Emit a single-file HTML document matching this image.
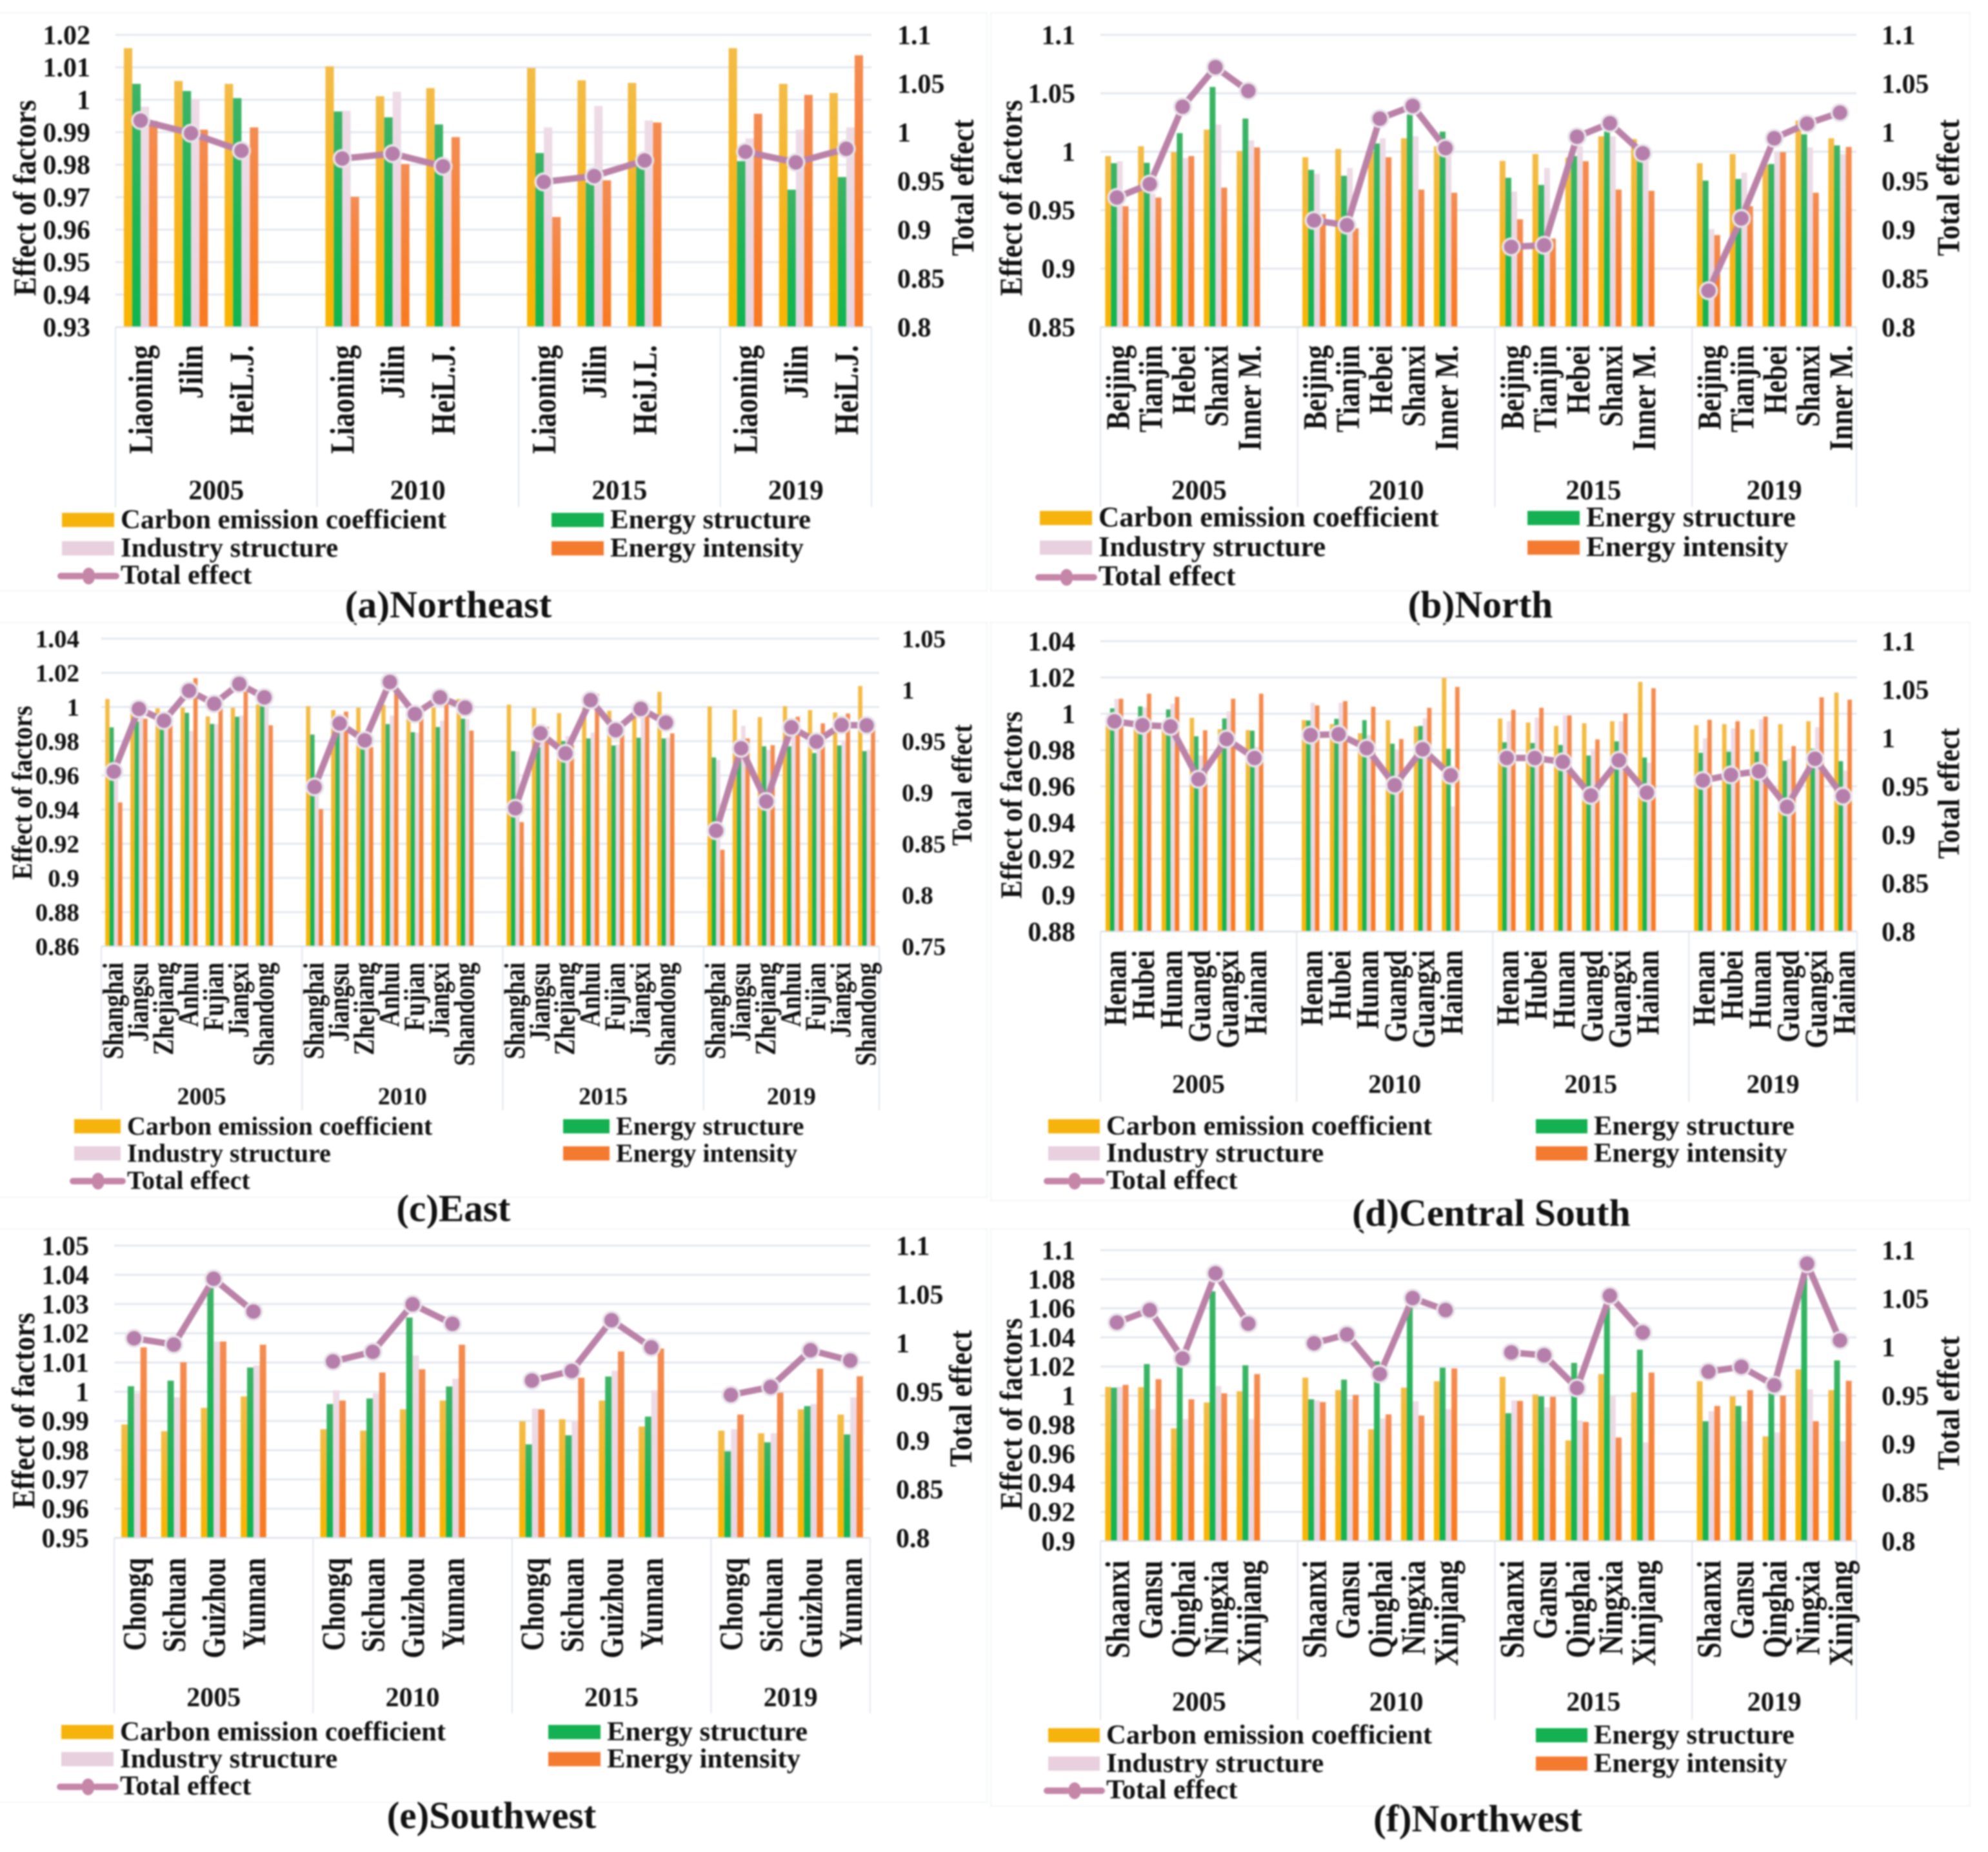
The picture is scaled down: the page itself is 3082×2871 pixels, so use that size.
<!DOCTYPE html>
<html lang="en">
<head>
<meta charset="utf-8">
<title>Decomposition of carbon emission effects by region</title>
<style>
html,body{margin:0;padding:0;background:#fff;}
#figure{display:block;width:3082px;height:2871px;background:#fff;font-family:"Liberation Serif",serif;}
#figure-content{filter:blur(1.2px);}
#figure text{font-family:"Liberation Serif",serif;font-weight:bold;fill:#111;}
</style>
</head>
<body>
<svg id="figure" xmlns="http://www.w3.org/2000/svg" width="3082" height="2871" viewBox="0 0 3082 2871">
<defs>
<linearGradient id="grad-carbon" x1="0" y1="0" x2="0" y2="1"><stop offset="0" stop-color="#F3BC48"/><stop offset="0.55" stop-color="#F7B41C"/><stop offset="1" stop-color="#F9B500"/></linearGradient>
<linearGradient id="grad-energy" x1="0" y1="0" x2="0" y2="1"><stop offset="0" stop-color="#3DB466"/><stop offset="0.55" stop-color="#1CB556"/><stop offset="1" stop-color="#10B550"/></linearGradient>
<linearGradient id="grad-industry" x1="0" y1="0" x2="0" y2="1"><stop offset="0" stop-color="#EDDBE6"/><stop offset="1" stop-color="#E9D3E0"/></linearGradient>
<linearGradient id="grad-intensity" x1="0" y1="0" x2="0" y2="1"><stop offset="0" stop-color="#F48C52"/><stop offset="0.6" stop-color="#F6802F"/><stop offset="1" stop-color="#F97A20"/></linearGradient>
</defs>
<g id="figure-content"></g>
</svg>
<script>
// ---- shared labels ----
const yearLabels = ['2005', '2010', '2015', '2019'];
const legendLabels = ['Carbon emission coefficient', 'Energy structure', 'Industry structure', 'Energy intensity', 'Total effect'];

// ---- (a) Northeast ----
const northeastCategories = ['Liaoning','Jilin','HeiL.J.','Liaoning','Jilin','HeiL.J.','Liaoning','Jilin','HeiJ.L.','Liaoning','Jilin','HeiL.J.'];
const northeastLeftTicks = ['0.93','0.94','0.95','0.96','0.97','0.98','0.99','1','1.01','1.02'];
const northeastRightTicks = ['0.8','0.85','0.9','0.95','1','1.05','1.1'];
const northeastCarbon = [1.0159,1.0058,1.0049, 1.0103,1.0011,1.0036, 1.0098,1.006,1.0052, 1.0159,1.0049,1.0021];
const northeastEnergy = [1.0049,1.0027,1.0005, 0.9964,0.9946,0.9924, 0.9836,0.9745,0.98, 0.9811,0.9723,0.9762];
const northeastIndustry = [0.9979,1.0003,0.984, 0.9966,1.0025,0.978, 0.9915,0.9981,0.9936, 0.9881,0.9908,0.9915];
const northeastIntensity = [0.9935,0.9908,0.9915, 0.9701,0.9802,0.9885, 0.9639,0.9752,0.993, 0.9957,1.0015,1.0137];
const northeastTotal = [1.012,0.999,0.981, 0.973,0.978,0.965, 0.949,0.955,0.971, 0.98,0.969,0.983];

// ---- (b) North ----
const northProvinces = ['Beijing','Tianjin','Hebei','Shanxi','Inner M.'];
const northCategories = [...northProvinces,...northProvinces,...northProvinces,...northProvinces];
const northLeftTicks = ['0.85','0.9','0.95','1','1.05','1.1'];
const northRightTicks = ['0.8','0.85','0.9','0.95','1','1.05','1.1'];
const northCarbon = [0.9963,1.0047,0.9997,1.0189,1.0007, 0.9953,1.0024,1.0,1.0115,1.0047, 0.9922,0.998,0.995,1.0132,1.0108, 0.9902,0.998,0.989,1.0267,1.0115];
const northEnergy = [0.9902,0.9905,1.0159,1.0554,1.0284, 0.9845,0.9794,1.0071,1.0318,1.0172, 0.9777,0.9716,0.9963,1.0172,0.9929, 0.9753,0.9767,0.9895,1.0149,1.0054];
const northIndustry = [0.9919,0.964,0.9946,1.0233,1.0098, 0.9811,0.9861,1.0115,1.0132,1.003, 0.9659,0.9861,1.0047,1.0132,0.9946, 0.9338,0.9821,0.9997,1.0037,0.998];
const northIntensity = [0.9534,0.9608,0.9963,0.9693,1.0037, 0.9466,0.9345,0.9953,0.9676,0.9649, 0.9422,0.9257,0.9919,0.9676,0.9666, 0.9287,0.9534,0.9997,0.9649,1.0041];
const northTotal = [0.933,0.9468,1.0262,1.0668,1.0424, 0.9095,0.9046,1.014,1.027,0.9837, 0.8823,0.884,0.9954,1.0092,0.9784, 0.8373,0.9115,0.9938,1.0088,1.0201];

// ---- (c) East ----
const eastProvinces = ['Shanghai','Jiangsu','Zhejiang','Anhui','Fujian','Jiangxi','Shandong'];
const eastCategories = [...eastProvinces,...eastProvinces,...eastProvinces,...eastProvinces];
const eastLeftTicks = ['0.86','0.88','0.9','0.92','0.94','0.96','0.98','1','1.02','1.04'];
const eastRightTicks = ['0.75','0.8','0.85','0.9','0.95','1','1.05'];
const eastCarbon = [1.0047,0.9962,0.9992,0.9996,0.9945,0.9996,1.0015, 1.0005,0.9982,0.9996,1.0012,0.9932,0.9996,1.0047, 1.0014,0.9994,0.9964,0.9996,0.9978,0.9996,1.0089, 1.0003,0.9985,0.9941,1.0005,0.9982,0.9968,1.0123];
const eastEnergy = [0.9881,0.9915,0.987,0.9966,0.9901,0.9943,1.0019, 0.9839,0.9881,0.9765,0.99,0.9853,0.9883,0.9932, 0.9742,0.9765,0.98,0.9816,0.9775,0.982,0.9816, 0.9705,0.972,0.977,0.977,0.9731,0.9775,0.9742];
const eastIndustry = [0.968,0.996,0.987,0.986,0.99,0.995,1.0, 0.95,0.985,0.98,0.995,0.985,0.992,0.993, 0.974,0.99,0.983,0.985,0.978,0.998,0.982, 0.969,0.989,0.975,0.985,0.975,0.98,0.975];
const eastIntensity = [0.9442,0.9932,0.9897,1.0169,0.9996,1.0089,0.9893, 0.9403,0.9973,0.9765,1.0089,0.9932,1.0024,0.9862, 0.9327,0.9885,0.9777,1.0077,0.9915,0.9962,0.9846, 0.9165,0.9816,0.9777,0.9943,0.9904,0.9962,0.987];
const eastTotal = [0.9204,0.9815,0.97,0.9992,0.9865,1.0058,0.9927, 0.9054,0.9673,0.9508,1.0077,0.9765,0.9927,0.9827, 0.8846,0.9577,0.9381,0.99,0.9608,0.9815,0.9681, 0.8627,0.9431,0.8912,0.9635,0.9496,0.9658,0.9654];

// ---- (d) Central South ----
const centralProvinces = ['Henan','Hubei','Hunan','Guangd','Guangxi','Hainan'];
const centralCategories = [...centralProvinces,...centralProvinces,...centralProvinces,...centralProvinces];
const centralLeftTicks = ['0.88','0.9','0.92','0.94','0.96','0.98','1','1.02','1.04'];
const centralRightTicks = ['0.8','0.85','0.9','0.95','1','1.05','1.1'];
const centralCarbon = [0.998,0.996,0.994,0.9978,0.9915,0.991, 0.9965,0.9943,0.9893,0.9965,0.993,1.0198, 0.9974,0.9952,0.9933,0.9948,0.9959,1.0176, 0.9937,0.9943,0.9915,0.9943,0.9959,1.0117];
const centralEnergy = [1.003,1.0041,1.0024,0.9876,0.9974,0.9907, 0.9963,0.9972,0.9965,0.9835,0.9933,0.9807, 0.9843,0.9839,0.9828,0.977,0.9848,0.9759, 0.9785,0.9791,0.9791,0.9741,0.9807,0.9739];
const centralIndustry = [1.0083,1.0035,1.0055,0.977,1.0013,0.9817, 1.0061,1.0061,0.9883,0.9796,0.9976,0.949, 0.9959,0.998,0.9991,0.9807,0.9959,0.973, 0.9865,0.992,0.997,0.9752,0.9926,0.9687];
const centralIntensity = [1.0083,1.0111,1.0093,0.9909,1.0083,1.0111, 1.0046,1.007,1.0039,0.9861,1.0033,1.0148, 1.0022,1.0033,0.9991,0.9859,1.0002,1.0141, 0.9967,0.9959,0.9985,0.9822,1.0091,1.0078];
const centralTotal = [1.0172,1.0132,1.0119,0.9573,0.9989,0.9793, 1.003,1.0038,0.9895,0.9512,0.9883,0.9614, 0.9793,0.9793,0.9753,0.9406,0.9769,0.9435, 0.9561,0.9618,0.9655,0.9288,0.9785,0.9398];

// ---- (e) Southwest ----
const southwestProvinces = ['Chongq','Sichuan','Guizhou','Yunnan'];
const southwestCategories = [...southwestProvinces,...southwestProvinces,...southwestProvinces,...southwestProvinces];
const southwestLeftTicks = ['0.95','0.96','0.97','0.98','0.99','1','1.01','1.02','1.03','1.04','1.05'];
const southwestRightTicks = ['0.8','0.85','0.9','0.95','1','1.05','1.1'];
const southwestCarbon = [0.9888,0.9865,0.9945,0.9984, 0.9872,0.9867,0.994,0.997, 0.9899,0.9906,0.997,0.9881, 0.9867,0.9858,0.994,0.9922];
const southwestEnergy = [1.0019,1.0038,1.0357,1.0083, 0.9958,0.9977,1.0254,1.0018, 0.982,0.9851,1.0052,0.9915, 0.9796,0.9827,0.9951,0.9854];
const southwestIndustry = [0.9995,0.9981,1.0172,1.009, 1.0005,0.9995,1.0124,1.0045, 0.9943,0.9899,1.0072,1.0005, 0.9872,0.9858,0.9958,0.9981];
const southwestIntensity = [1.0152,1.0101,1.0172,1.0161, 0.997,1.0066,1.0077,1.0161, 0.994,1.0048,1.0138,1.0148, 0.9922,0.9997,1.0079,1.0053];
const southwestTotal = [1.0049,0.9984,1.066,1.0324, 0.9811,0.991,1.0398,1.0197, 0.9615,0.9713,1.0234,0.9955, 0.9467,0.9549,0.9926,0.982];

// ---- (f) Northwest ----
const northwestProvinces = ['Shaanxi','Gansu','Qinghai','Ningxia','Xinjiang'];
const northwestCategories = [...northwestProvinces,...northwestProvinces,...northwestProvinces,...northwestProvinces];
const northwestLeftTicks = ['0.9','0.92','0.94','0.96','0.98','1','1.02','1.04','1.06','1.08','1.1'];
const northwestRightTicks = ['0.8','0.85','0.9','0.95','1','1.05','1.1'];
const northwestCarbon = [1.006,1.0058,0.9775,0.9953,1.003, 1.0124,1.0038,0.9769,1.0055,1.0099, 1.0129,1.0008,0.9692,1.0148,1.0022, 1.0099,0.9995,0.972,1.0181,1.0038];
const northwestEnergy = [1.0055,1.0217,1.0203,1.0717,1.0209, 0.9975,1.011,1.0236,1.0607,1.0192, 0.9879,0.9995,1.0225,1.0607,1.0316, 0.9824,0.9929,1.0017,1.0827,1.0242];
const northwestIndustry = [1.006,0.9907,0.9838,1.0066,0.9838, 0.9967,0.9975,0.9843,0.9961,0.9907, 0.9967,0.992,0.983,1.0003,0.9679, 0.9893,0.9824,0.9747,1.0044,0.9687];
const northwestIntensity = [1.0074,1.0113,0.9975,1.0016,1.0148, 0.9956,1.0005,0.9871,0.9863,1.0187, 0.9964,0.9992,0.9819,0.9712,1.0159, 0.9929,1.0038,1.0,0.9824,1.0102];
const northwestTotal = [1.0254,1.0382,0.9883,1.0761,1.0242, 1.004,1.0131,0.9723,1.0506,1.0382, 0.9945,0.9916,0.9578,1.053,1.0151, 0.9747,0.9797,0.9607,1.086,1.0069];

const SVG_NS = 'http://www.w3.org/2000/svg';
const root = document.getElementById('figure-content');
const seriesFills = ['url(#grad-carbon)', 'url(#grad-energy)', 'url(#grad-industry)', 'url(#grad-intensity)'];
const seriesKeys = ['carbon', 'energy', 'industry', 'intensity'];
const legendFills = ['#F6B30C', '#13B152', '#E8D0DE', '#F47A30'];

function make(parent, tag, attrs) {
  const el = document.createElementNS(SVG_NS, tag);
  for (const key in attrs) el.setAttribute(key, attrs[key]);
  parent.appendChild(el);
  return el;
}

function label(parent, content, x, y, size, anchor, transform) {
  const attrs = { 'font-size': size, 'text-anchor': anchor };
  if (transform) { attrs.transform = transform; } else { attrs.x = x; attrs.y = y; }
  const el = make(parent, 'text', attrs);
  el.textContent = content;
  return el;
}

function drawPanel(cfg) {
  const panel = make(root, 'g', {});
  
  

  const frame = make(panel, 'rect', { x: cfg.frame[0], y: cfg.frame[1], width: cfg.frame[2], height: cfg.frame[3], fill: 'none', stroke: '#F3F4F6', 'stroke-width': 2 });
  
  

  const leftMin = Number(cfg.leftTicks[0]);
  const leftMax = Number(cfg.leftTicks[cfg.leftTicks.length - 1]);
  const rightMin = Number(cfg.rightTicks[0]);
  const rightMax = Number(cfg.rightTicks[cfg.rightTicks.length - 1]);
  const yLeft = function (v) { return cfg.yBottom - (v - leftMin) / (leftMax - leftMin) * (cfg.yBottom - cfg.yTop); };
  const yRight = function (v) { return cfg.yBottom - (v - rightMin) / (rightMax - rightMin) * (cfg.yBottom - cfg.yTop); };

  const groupCount = cfg.years.length;
  const perGroup = cfg.categories.length / groupCount;
  const slotCount = cfg.categories.length + groupCount - 1;
  const slot = (cfg.xRight - cfg.xLeft) / slotCount;
  const slotCenter = function (i) {
    const group = Math.floor(i / perGroup);
    return cfg.xLeft + (i + group + 0.5) * slot;
  };

  // gridlines and left tick labels
  cfg.leftTicks.forEach(function (tick) {
    const y = yLeft(Number(tick));
    const grid = make(panel, 'line', { x1: cfg.xLeft, x2: cfg.xRight, y1: y, y2: y, stroke: '#E3E7EF', 'stroke-width': 3 });
    
    
    const text = label(panel, tick, cfg.leftTickX, y + cfg.tickSize * 0.34, cfg.tickSize, 'end');
    
    
  });
  cfg.rightTicks.forEach(function (tick) {
    const y = yRight(Number(tick));
    const text = label(panel, tick, cfg.rightTickX, y + cfg.tickSize * 0.34, cfg.tickSize, 'start');
    
    
  });

  // bars
  const barWidth = slot * cfg.clusterFraction / 4;
  cfg.series.forEach(function (values, s) {
    values.forEach(function (value, i) {
      const x = slotCenter(i) - 2 * barWidth + s * barWidth;
      const top = yLeft(value);
      const bar = make(panel, 'rect', { x: x, y: top, width: barWidth, height: Math.max(0, cfg.yBottom - top), fill: seriesFills[s] });
      
      
    });
  });

  // category axis base and year separators
  const axis = make(panel, 'line', { x1: cfg.xLeft, x2: cfg.xRight, y1: cfg.yBottom, y2: cfg.yBottom, stroke: '#DFE3EC', 'stroke-width': 2 });
  
  
  for (let g = 0; g <= groupCount; g++) {
    const sx = g === groupCount ? cfg.xRight : cfg.xLeft + g * (perGroup + 1) * slot;
    const sep = make(panel, 'line', { x1: sx, x2: sx, y1: cfg.yBottom, y2: cfg.sepBottom, stroke: '#E0E4EC', 'stroke-width': 2 });
    
    
  }

  // category labels
  cfg.categories.forEach(function (name, i) {
    const bx = slotCenter(i) + cfg.catDx;
    const text = label(panel, name, 0, 0, cfg.catSize, 'end', 'translate(' + bx + ' ' + cfg.catTop + ') rotate(-90) scale(1 ' + cfg.catStretch + ')');
    
    
  });

  // year labels
  cfg.years.forEach(function (year, g) {
    const start = cfg.xLeft + g * (perGroup + 1) * slot;
    const end = g === groupCount - 1 ? cfg.xRight : start + (perGroup + 1) * slot;
    const text = label(panel, year, (start + end) / 2, cfg.yearBaseline, cfg.yearSize, 'middle');
    
    
  });

  // total effect line, one segment per year
  for (let g = 0; g < groupCount; g++) {
    const pts = [];
    for (let k = 0; k < perGroup; k++) {
      const i = g * perGroup + k;
      pts.push(slotCenter(i) + ',' + yRight(cfg.total[i]));
    }
    const line = make(panel, 'polyline', { points: pts.join(' '), fill: 'none', stroke: '#BB82A8', 'stroke-width': 10, 'stroke-linejoin': 'round' });
    
    
  }
  cfg.total.forEach(function (value, i) {
    const dot = make(panel, 'circle', { cx: slotCenter(i), cy: yRight(value), r: 13, fill: '#B67FAB', stroke: '#E9E4EA', 'stroke-width': 3.5 });
    
    
  });

  // axis titles
  const leftTitle = label(panel, 'Effect of factors', 0, 0, cfg.titleSize, 'middle', 'translate(' + cfg.leftTitle[0] + ' ' + cfg.leftTitle[1] + ') rotate(-90) scale(1 1.12)');
  
  
  const rightTitle = label(panel, 'Total effect', 0, 0, cfg.titleSize, 'middle', 'translate(' + cfg.rightTitle[0] + ' ' + cfg.rightTitle[1] + ') rotate(-90) scale(1 1.12)');
  
  

  // legend
  const legend = make(panel, 'g', {});
  
  
  const rowY = cfg.legendRows;
  const swatchW = cfg.swatchWidth;
  const entries = [
    { col: 0, row: 0, label: legendLabels[0], fill: legendFills[0] },
    { col: 1, row: 0, label: legendLabels[1], fill: legendFills[1] },
    { col: 0, row: 1, label: legendLabels[2], fill: legendFills[2] },
    { col: 1, row: 1, label: legendLabels[3], fill: legendFills[3] }
  ];
  entries.forEach(function (entry) {
    const sx = cfg.legendCols[entry.col];
    const swatch = make(legend, 'rect', { x: sx, y: rowY[entry.row] - 11, width: swatchW, height: 22, fill: entry.fill });
    
    
    const text = label(legend, entry.label, sx + swatchW + 10, rowY[entry.row] + 13, cfg.legendSize, 'start');
    
    
  });
  const lx = cfg.legendCols[0];
  const ly = rowY[2];
  const legendLineA = make(legend, 'line', { x1: lx - 2, x2: lx + swatchW / 2 - 11, y1: ly, y2: ly, stroke: '#C586A8', 'stroke-width': 10, 'stroke-linecap': 'round' });
  
  
  const legendLineB = make(legend, 'line', { x1: lx + swatchW / 2 + 13, x2: lx + swatchW + 3, y1: ly, y2: ly, stroke: '#C586A8', 'stroke-width': 10, 'stroke-linecap': 'round' });
  
  
  const legendDot = make(legend, 'ellipse', { cx: lx + swatchW / 2 + 1, cy: ly, rx: 10, ry: 13, fill: '#C586A8' });
  
  
  const totalText = label(legend, legendLabels[4], lx + swatchW + 10, ly + 12, cfg.legendSize, 'start');
  
  

  // panel caption
  const caption = label(panel, cfg.caption, cfg.captionPos[0], cfg.captionPos[1], cfg.captionSize, 'middle');
  
  
}

drawPanel({
  key: 'northeast', caption: '(a)Northeast', captionPos: [695, 957], captionSize: 59.5,
  categories: northeastCategories, years: yearLabels, leftTicks: northeastLeftTicks, rightTicks: northeastRightTicks,
  series: [northeastCarbon, northeastEnergy, northeastIndustry, northeastIntensity], total: northeastTotal,
  frame: [-4, 20, 1534, 896], xLeft: 179, xRight: 1351, yTop: 54, yBottom: 507, sepBottom: 786,
  leftTickX: 140, rightTickX: 1391, tickSize: 42, clusterFraction: 0.667,
  catTop: 535, catDx: 18, catSize: 44, catStretch: 1.2, yearBaseline: 774, yearSize: 43,
  titleSize: 44.5, leftTitle: [55, 307], rightTitle: [1509, 291],
  swatchWidth: 81, legendCols: [96, 855], legendRows: [806, 850, 893], legendSize: 42.7
});
drawPanel({
  key: 'north', caption: '(b)North', captionPos: [2295, 957], captionSize: 59.5,
  categories: northCategories, years: yearLabels, leftTicks: northLeftTicks, rightTicks: northRightTicks,
  series: [northCarbon, northEnergy, northIndustry, northIntensity], total: northTotal,
  frame: [1536, 20, 1518, 896], xLeft: 1706, xRight: 2878, yTop: 54, yBottom: 507, sepBottom: 786,
  leftTickX: 1667, rightTickX: 2917, tickSize: 42, clusterFraction: 0.71,
  catTop: 535, catDx: 19, catSize: 43, catStretch: 1.2, yearBaseline: 774, yearSize: 43,
  titleSize: 44.5, leftTitle: [1584, 307], rightTitle: [3037, 291],
  swatchWidth: 81, legendCols: [1612, 2368], legendRows: [803, 849, 895], legendSize: 44.6
});
drawPanel({
  key: 'east', caption: '(c)East', captionPos: [703, 1893], captionSize: 59,
  categories: eastCategories, years: yearLabels, leftTicks: eastLeftTicks, rightTicks: eastRightTicks,
  series: [eastCarbon, eastEnergy, eastIndustry, eastIntensity], total: eastTotal,
  frame: [-4, 965, 1534, 891], xLeft: 157, xRight: 1363, yTop: 990, yBottom: 1467, sepBottom: 1721,
  leftTickX: 123, rightTickX: 1398, tickSize: 39, clusterFraction: 0.68,
  catTop: 1492, catDx: 14, catSize: 37.5, catStretch: 1.2, yearBaseline: 1712, yearSize: 38,
  titleSize: 39.5, leftTitle: [49, 1229], rightTitle: [1506, 1217],
  swatchWidth: 72, legendCols: [115, 873], legendRows: [1746, 1788, 1831], legendSize: 40
});
drawPanel({
  key: 'central-south', caption: '(d)Central South', captionPos: [2312, 1900], captionSize: 59.5,
  categories: centralCategories, years: yearLabels, leftTicks: centralLeftTicks, rightTicks: centralRightTicks,
  series: [centralCarbon, centralEnergy, centralIndustry, centralIntensity], total: centralTotal,
  frame: [1536, 965, 1518, 896], xLeft: 1706, xRight: 2879, yTop: 994, yBottom: 1444, sepBottom: 1708,
  leftTickX: 1667, rightTickX: 2917, tickSize: 42, clusterFraction: 0.63,
  catTop: 1473, catDx: 18, catSize: 41.5, catStretch: 1.2, yearBaseline: 1694, yearSize: 41,
  titleSize: 42.5, leftTitle: [1584, 1248], rightTitle: [3037, 1230],
  swatchWidth: 80, legendCols: [1625, 2381], legendRows: [1746, 1788, 1831], legendSize: 42.7
});
drawPanel({
  key: 'southwest', caption: '(e)Southwest', captionPos: [762, 2834], captionSize: 59,
  categories: southwestCategories, years: yearLabels, leftTicks: southwestLeftTicks, rightTicks: southwestRightTicks,
  series: [southwestCarbon, southwestEnergy, southwestIndustry, southwestIntensity], total: southwestTotal,
  frame: [-4, 1905, 1534, 889], xLeft: 177, xRight: 1349, yTop: 1931, yBottom: 2384, sepBottom: 2656,
  leftTickX: 138, rightTickX: 1389, tickSize: 42, clusterFraction: 0.64,
  catTop: 2415, catDx: 18, catSize: 42.5, catStretch: 1.2, yearBaseline: 2645, yearSize: 42,
  titleSize: 44.5, leftTitle: [53, 2187], rightTitle: [1506, 2168],
  swatchWidth: 81, legendCols: [95, 850], legendRows: [2685, 2727, 2770], legendSize: 42.7
});
drawPanel({
  key: 'northwest', caption: '(f)Northwest', captionPos: [2291, 2839], captionSize: 59.5,
  categories: northwestCategories, years: yearLabels, leftTicks: northwestLeftTicks, rightTicks: northwestRightTicks,
  series: [northwestCarbon, northwestEnergy, northwestIndustry, northwestIntensity], total: northwestTotal,
  frame: [1536, 1905, 1518, 895], xLeft: 1706, xRight: 2878, yTop: 1938, yBottom: 2389, sepBottom: 2666,
  leftTickX: 1667, rightTickX: 2917, tickSize: 42, clusterFraction: 0.71,
  catTop: 2419, catDx: 19, catSize: 44, catStretch: 1.2, yearBaseline: 2652, yearSize: 42,
  titleSize: 43.5, leftTitle: [1584, 2192], rightTitle: [3037, 2175],
  swatchWidth: 80, legendCols: [1625, 2381], legendRows: [2690, 2734, 2776], legendSize: 42.7
});
</script>
</body>
</html>
